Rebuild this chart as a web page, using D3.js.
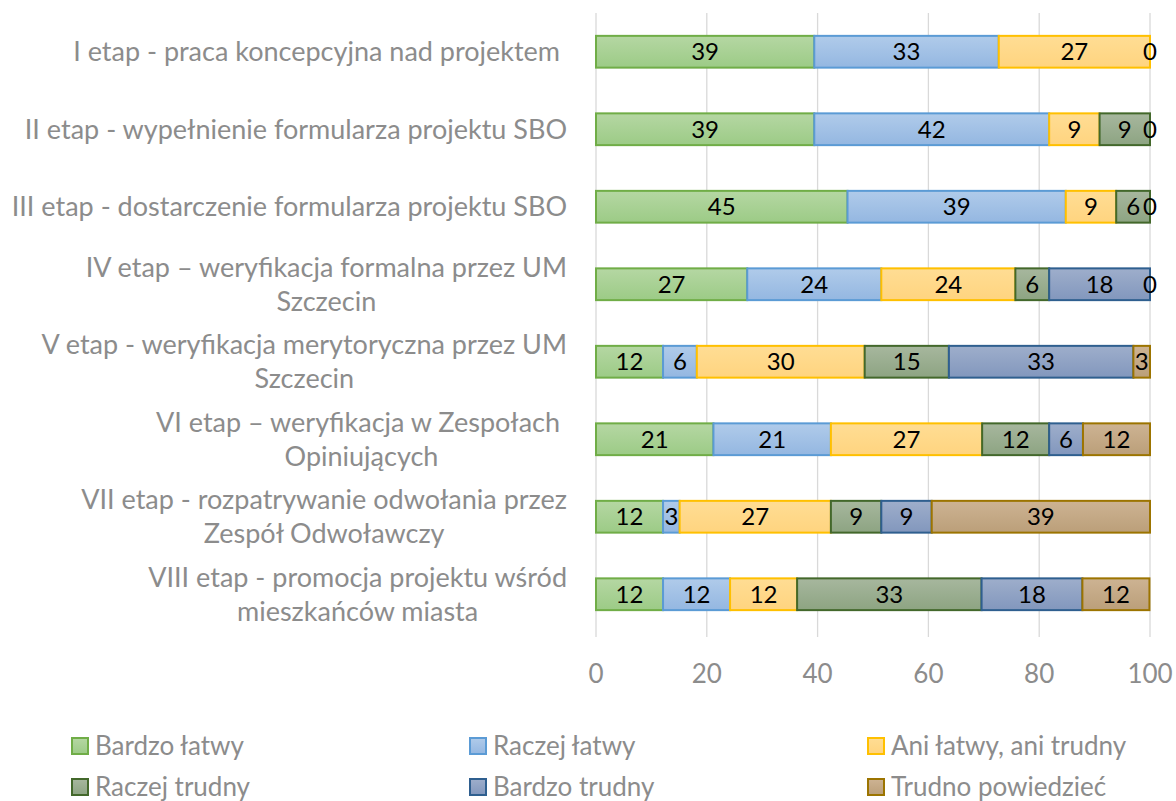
<!DOCTYPE html>
<html>
<head>
<meta charset="utf-8">
<script src="https://cdn.jsdelivr.net/npm/d3@7"></script>
<style>
  body { margin: 0; background: #fff; }
  text { font-family: Lato, "Open Sans", sans-serif; }
</style>
</head>
<body>
<script>
// categories (top to bottom), each split into lines as in the picture
var categories = [
  ["I etap - praca koncepcyjna nad projektem "],
  ["II etap - wypełnienie formularza projektu SBO"],
  ["III etap - dostarczenie formularza projektu SBO"],
  ["IV etap – weryfikacja formalna przez UM", "Szczecin"],
  ["V etap - weryfikacja merytoryczna przez UM", "Szczecin"],
  ["VI etap – weryfikacja w Zespołach ", "Opiniujących"],
  ["VII etap - rozpatrywanie odwołania przez", "Zespół Odwoławczy"],
  ["VIII etap - promocja projektu wśród", "mieszkańców miasta"]
]
var series = ["Bardzo łatwy", "Raczej łatwy", "Ani łatwy, ani trudny", "Raczej trudny", "Bardzo trudny", "Trudno powiedzieć"]

// percentages per series, one value per category (null = no value)
var bardzoLatwy  = [39.4, 39.4, 45.4, 27.3, 12.1, 21.2, 12.1, 12.1]
var raczejLatwy  = [33.3, 42.4, 39.4, 24.2,  6.1, 21.2,  3.0, 12.1]
var aniAni       = [27.3,  9.1,  9.1, 24.2, 30.3, 27.3, 27.3, 12.1]
var raczejTrudny = [ 0.0,  9.1,  6.1,  6.1, 15.2, 12.1,  9.1, 33.3]
var bardzoTrudny = [null,  0.0,  0.0, 18.2, 33.3,  6.1,  9.1, 18.2]
var trudnoPow    = [null, null, null,  0.0,  3.0, 12.1, 39.4, 12.1]

var xTicks = [0, 20, 40, 60, 80, 100]

var fills = [["#b5d7a3", "#9ccb86"], ["#b0cbea", "#94b7e1"], ["#ffdd94", "#ffd47f"],
             ["#a7b79e", "#8da482"], ["#9eaecb", "#8297bd"], ["#cdb393", "#bb9f79"]]
var borders = ["#70ad47", "#5b9bd5", "#ffc000", "#43682b", "#2f5f8f", "#9c7400"]

var width = 1176, height = 801
var values = [bardzoLatwy, raczejLatwy, aniAni, raczejTrudny, bardzoTrudny, trudnoPow]

var svg = d3.select("body").append("svg")
  .attr("width", width).attr("height", height)

var defs = svg.append("defs")
fills.forEach(function(f, i){
  var g = defs.append("linearGradient").attr("id", "g" + i)
    .attr("x1", 0).attr("y1", 0).attr("x2", 0).attr("y2", 1)
  g.append("stop").attr("offset", "0%").attr("stop-color", f[0])
  g.append("stop").attr("offset", "100%").attr("stop-color", f[1])
})

var x = d3.scaleLinear().domain([0, 100]).range([596, 1150])
var y = d3.scaleBand().domain(d3.range(categories.length))
  .range([13, 633]).paddingInner(0.59).paddingOuter(0.295)

// gridlines + little ticks below
svg.append("g").selectAll("line").data(xTicks).enter().append("line")
  .attr("x1", d => x(d)).attr("x2", d => x(d))
  .attr("y1", 13).attr("y2", 637)
  .attr("stroke", "#d9d9d9").attr("stroke-width", 1.3)

svg.append("g").selectAll("text").data(xTicks).enter().append("text")
  .attr("x", d => x(d)).attr("y", 683)
  .attr("text-anchor", "middle")
  .attr("font-size", 26).attr("fill", "#8c8c8c")
  .text(d => d)

// stack
var rows = categories.map(function(c, ci){
  var acc = 0
  return values.map(function(v, si){
    var val = v[ci]
    var seg = {si: si, ci: ci, v: val, x0: acc, x1: acc + (val || 0)}
    acc += (val || 0)
    return seg
  }).filter(s => s.v !== null)
})
var segs = [].concat.apply([], rows)

svg.append("g").selectAll("rect").data(segs.filter(s => s.v > 0)).enter().append("rect")
  .attr("x", s => x(s.x0)).attr("width", s => x(s.x1) - x(s.x0))
  .attr("y", s => y(s.ci)).attr("height", y.bandwidth())
  .attr("fill", s => "url(#g" + s.si + ")")
  .attr("stroke", s => borders[s.si]).attr("stroke-width", 2)

svg.append("g").selectAll("text").data(segs).enter().append("text")
  .attr("x", s => x((s.x0 + s.x1) / 2))
  .attr("y", s => y(s.ci) + y.bandwidth() / 2)
  .attr("dy", "0.36em")
  .attr("text-anchor", "middle")
  .attr("font-size", 24).attr("fill", "#000")
  .text(s => Math.round(s.v))

// category labels: lines centered on each other, block right-aligned
var labelRight = 567
var lineH = 34
categories.forEach(function(lines, ci){
  var g = svg.append("g")
  var cy = y(ci) + y.bandwidth() / 2
  var texts = lines.map(function(l, li){
    return g.append("text")
      .style("white-space", "pre")
      .attr("y", cy + (li - (lines.length - 1) / 2) * lineH)
      .attr("dy", "0.36em")
      .attr("text-anchor", "middle")
      .attr("font-size", 27).attr("fill", "#8c8c8c")
      .text(l)
  })
  var maxW = d3.max(texts, t => t.node().getComputedTextLength())
  texts.forEach(t => t.attr("x", labelRight - maxW / 2))
})

// legend
var legX = [71, 469, 867], legY = [746, 787]
var leg = svg.append("g").selectAll("g").data(series).enter().append("g")
  .attr("transform", (d, i) => "translate(" + legX[i % 3] + "," + legY[Math.floor(i / 3)] + ")")
leg.append("rect")
  .attr("x", 1).attr("y", -8).attr("width", 16).attr("height", 16)
  .attr("fill", (d, i) => "url(#g" + i + ")")
  .attr("stroke", (d, i) => borders[i]).attr("stroke-width", 2)
leg.append("text")
  .attr("x", 24).attr("dy", "0.36em")
  .attr("font-size", 26).attr("fill", "#8c8c8c")
  .text(d => d)
</script>
</body>
</html>
